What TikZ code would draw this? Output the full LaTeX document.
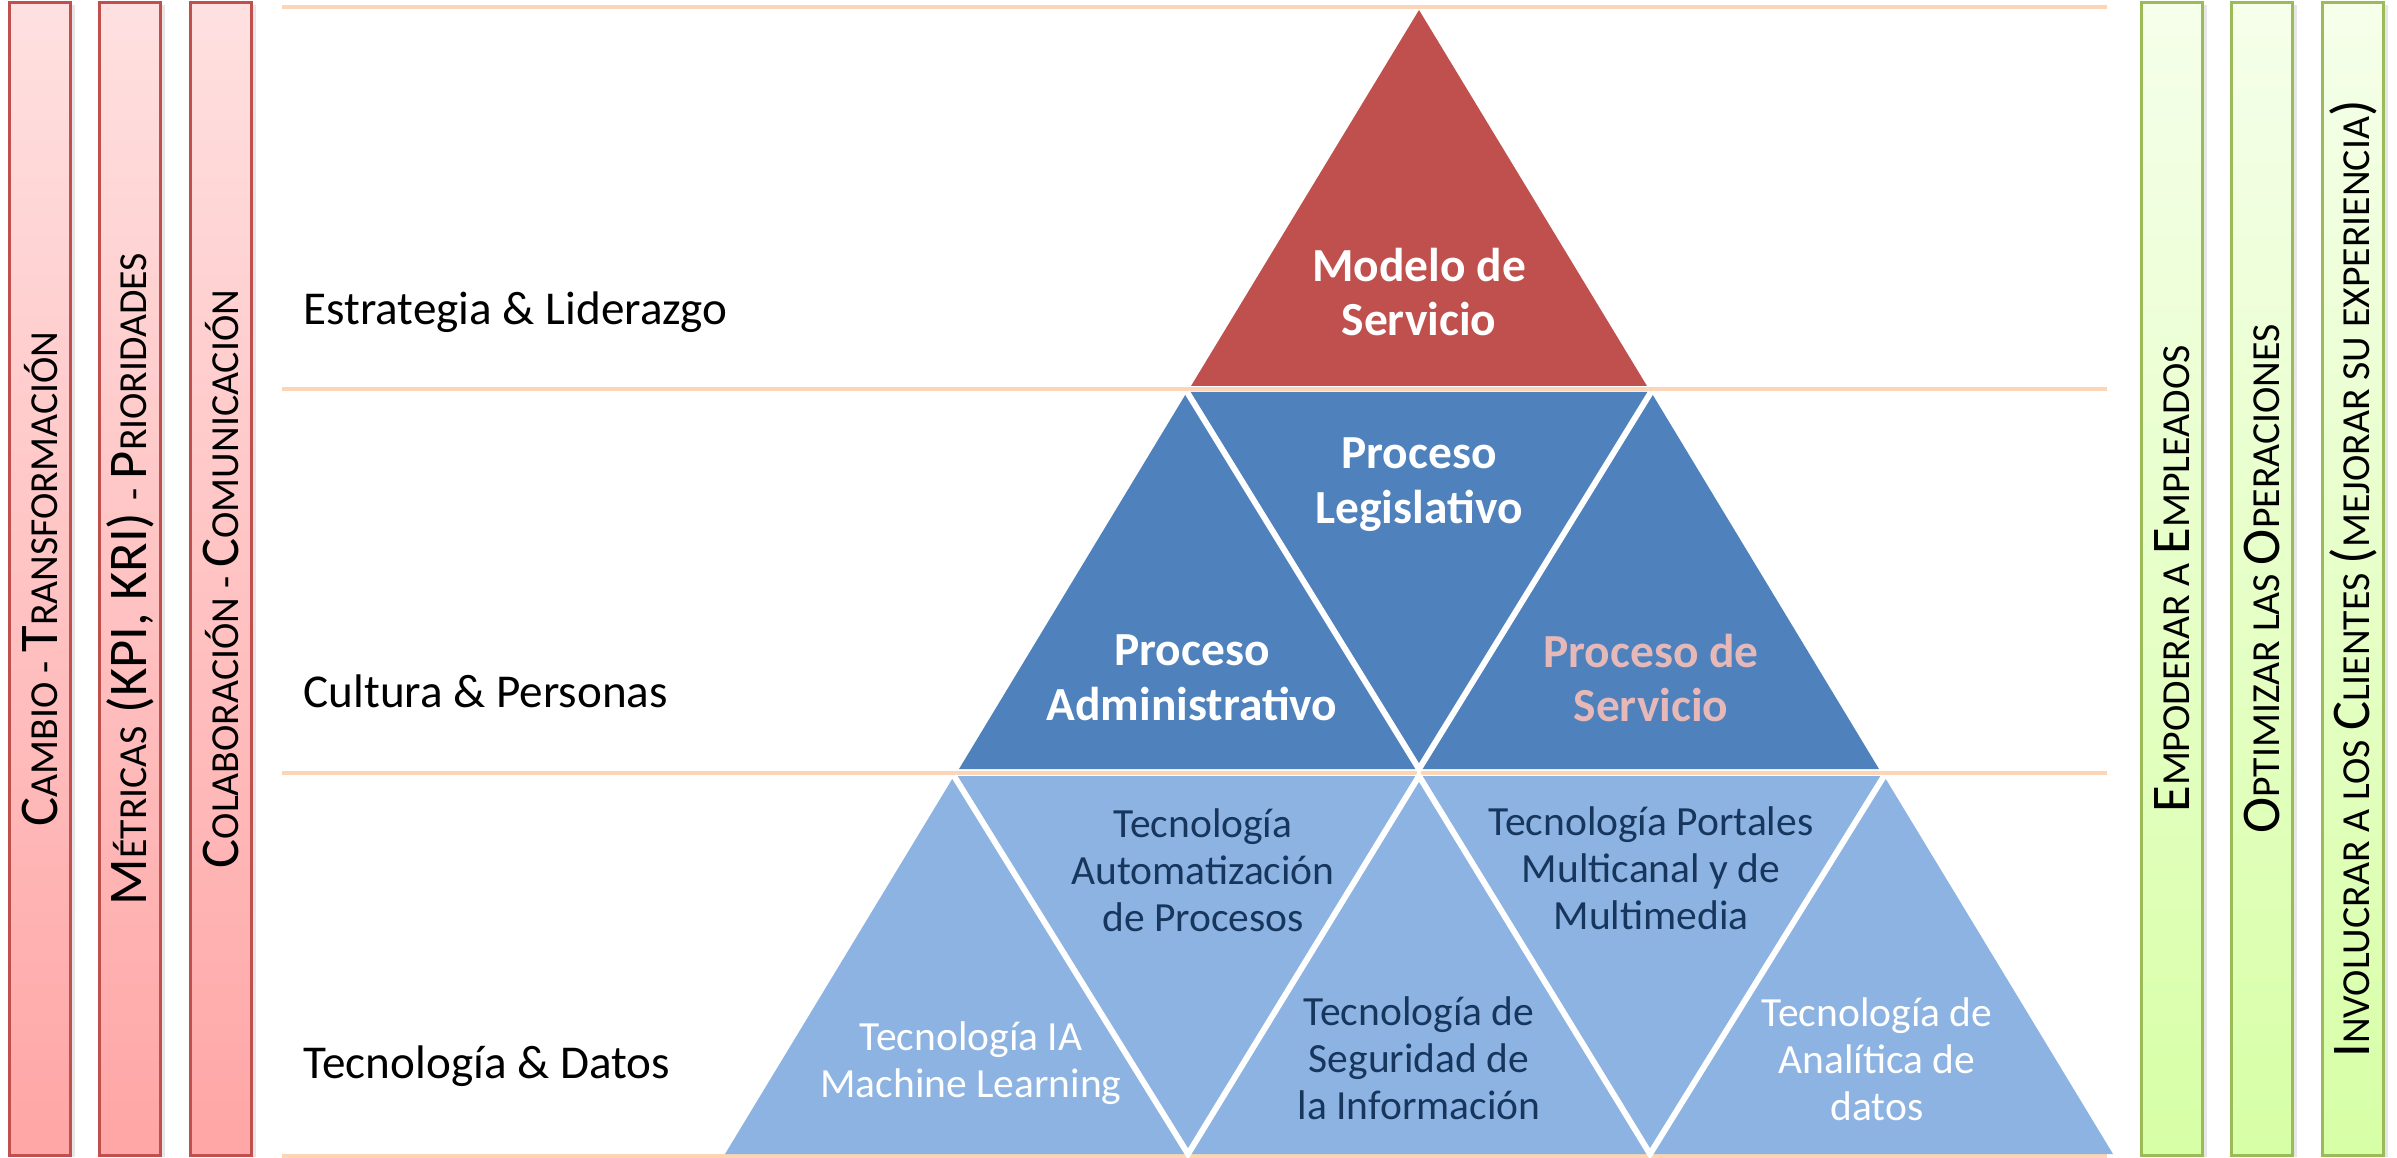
\documentclass[tikz,border=0pt]{standalone}
\usepackage{fontspec}
\setmainfont{Carlito}
\usetikzlibrary{shadows}
\definecolor{rojo}{HTML}{C0504D}
\definecolor{azul}{HTML}{4F81BD}
\definecolor{celeste}{HTML}{8DB3E2}
\definecolor{marino}{HTML}{17365D}
\definecolor{rosa}{HTML}{E6B9B8}
\definecolor{durazno}{HTML}{FBD5B5}
\definecolor{verde}{HTML}{9BBB59}
\newcommand{\chica}[1]{{\fontsize{11.3}{13}\selectfont #1}}

\begin{document}
\begin{tikzpicture}[x=0.01cm,y=-0.01cm]
		\tikzstyle{bar} = [line width=0.7pt,minimum width=0.61cm,minimum height=11.52cm,inner sep=0pt,font=\fontsize{15.5}{18}\selectfont,drop shadow={opacity=0.2,shadow xshift=0.04cm,shadow yshift=-0.02cm}]
		\tikzstyle{redbar} = [bar,draw=rojo,top color=red!12,bottom color=red!35]
		\tikzstyle{greenbar} = [bar,draw=verde,top color=green!45!yellow!8,bottom color=green!45!yellow!35]
		\tikzstyle{guide} = [durazno,line width=1pt]
		\tikzstyle{cut} = [white,line width=1.7pt]
		\tikzstyle{level} = [anchor=west,inner sep=0pt,font=\fontsize{13.4}{16}\selectfont]
		\tikzstyle{proc} = [align=center,text=white,font=\bfseries\fontsize{13.5}{15.6}\selectfont]
		\tikzstyle{tech} = [align=center,text=marino,font=\fontsize{11.8}{13.4}\selectfont]
		\useasboundingbox (0,0) rectangle (2397,1158);
		% side bars
		\node[redbar] (cambio) at (40,579) {\rotatebox{90}{C\chica{AMBIO - }T\chica{RANSFORMACIÓN}}};
		\node[redbar] (metricas) at (130,579) {\rotatebox{90}{M\chica{ÉTRICAS} (KPI, KRI) \chica{- }P\chica{RIORIDADES}}};
		\node[redbar] (colab) at (221,579) {\rotatebox{90}{C\chica{OLABORACIÓN - }C\chica{OMUNICACIÓN}}};
		\node[greenbar] (empoderar) at (2172,579) {\rotatebox{90}{E\chica{MPODERAR A }E\chica{MPLEADOS}}};
		\node[greenbar] (optimizar) at (2262,579) {\rotatebox{90}{O\chica{PTIMIZAR LAS }O\chica{PERACIONES}}};
		\node[greenbar] (involucrar) at (2353,579) {\rotatebox{90}{I\chica{NVOLUCRAR A LOS }C\chica{LIENTES }(\chica{MEJORAR SU EXPERIENCIA})}};
		% guide lines
		\coordinate (g1) at (282,7);    \coordinate (h1) at (2107,7);
		\coordinate (g2) at (282,389);  \coordinate (h2) at (2107,389);
		\coordinate (g3) at (282,773);  \coordinate (h3) at (2107,773);
		\coordinate (g4) at (282,1156); \coordinate (h4) at (2107,1156);
		\draw[guide] (g1)--(h1);
		\draw[guide] (g2)--(h2);
		\draw[guide] (g3)--(h3);
		\draw[guide] (g4)--(h4);
		% pyramid
		\coordinate (apex) at (1419,10);
		\coordinate (a1) at (1191,386); \coordinate (a2) at (1647,386);
		\coordinate (b1) at (1187,392); \coordinate (b2) at (1651,392);
		\coordinate (b3) at (959,769);  \coordinate (b4) at (1419,769); \coordinate (b5) at (1879,769);
		\coordinate (c1) at (954,776);  \coordinate (c2) at (1419,776); \coordinate (c3) at (1884,776);
		\coordinate (c4) at (725,1154); \coordinate (c5) at (1188,1154); \coordinate (c6) at (1650,1154); \coordinate (c7) at (2113,1154);
		\fill[rojo] (apex)--(a2)--(a1)--cycle;
		\fill[azul] (b1)--(b2)--(b5)--(b3)--cycle;
		\fill[celeste] (c1)--(c3)--(c7)--(c4)--cycle;
		\draw[cut] (b1)--(b4)--(b2);
		\draw[cut] (c1)--(c5)--(c2)--(c6)--(c3);
		% texts
		\node[proc] (modelo) at (1419,292) {Modelo de\\Servicio};
		\node[proc] (legis) at (1419,485) {Proceso\\Legislativo};
		\node[proc] (admin) at (1192,678) {Proceso\\Administrativo};
		\node[proc,text=rosa] (servicio) at (1651,678) {Proceso de\\Servicio};
		\node[tech] (automat) at (1203,870) {Tecnología\\Automatización\\de Procesos};
		\node[tech,text=white] (ia) at (971,1063) {Tecnología IA\\Machine Learning};
		\node[tech] (seguridad) at (1419,1058) {Tecnología de\\Seguridad de\\la Información};
		\node[tech] (portales) at (1651,868) {Tecnología Portales\\Multicanal y de\\Multimedia};
		\node[tech,text=white] (analitica) at (1877,1059) {Tecnología de\\Analítica de\\datos};
		\node[level] (estrategia) at (303,312) {Estrategia \& Liderazgo};
		\node[level] (cultura) at (303,691) {Cultura \& Personas};
		\node[level] (tecnologia) at (303,1066) {Tecnología \& Datos};
\end{tikzpicture}
\end{document}
